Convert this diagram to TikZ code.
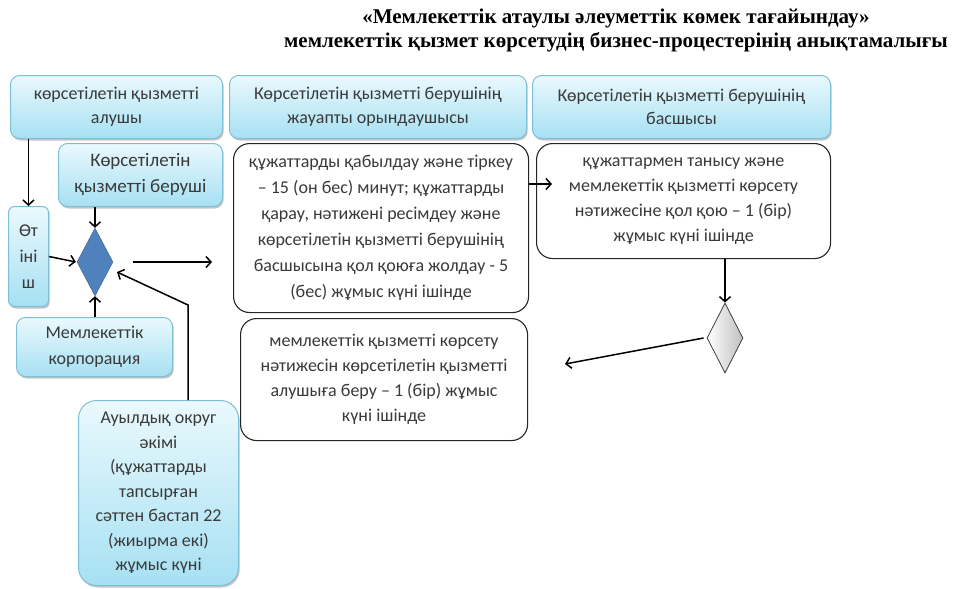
\documentclass[tikz,border=0pt]{standalone}
\usepackage{fontspec}
\setmainfont{Carlito}
\newfontfamily\titlefont{Liberation Serif}
\usetikzlibrary{positioning,arrows.meta,calc,shadows,shapes.geometric}
\definecolor{hdrline}{HTML}{7FBFD6}
\definecolor{hdrtop}{HTML}{EAF9FD}
\definecolor{hdrbot}{HTML}{A6E0F3}
\definecolor{dblue}{HTML}{4F81BD}
\definecolor{dblueline}{HTML}{385D8A}
\definecolor{txt}{HTML}{3A3A3A}

\tikzset{
  hdr/.style={draw=hdrline, line width=1pt, rounded corners=9pt,
    top color=hdrtop, bottom color=hdrbot,
    drop shadow={shadow xshift=1.2pt, shadow yshift=-2pt, fill=black!45},
    align=center, text=txt, font=\fontsize{18}{23.5}\selectfont,
    anchor=north west, inner sep=0pt},
  proc/.style={draw=black!85, line width=1.1pt, rounded corners=16pt, fill=white,
    align=center, text=txt, font=\fontsize{18}{26}\selectfont,
    anchor=north west, inner sep=0pt},
  arr/.style={line width=1.5pt, -{Straight Barb[length=5pt,width=11pt]}},
}

\begin{document}
\begin{tikzpicture}[x=1pt,y=-1pt]
  \useasboundingbox (0,0) rectangle (954,589);
  % title
  \node[font=\titlefont\bfseries\fontsize{21}{24}\selectfont, align=center] (title) at (616,30)
    {«Мемлекеттік атаулы әлеуметтік көмек тағайындау»\\
     мемлекеттік қызмет көрсетудің бизнес-процестерінің анықтамалығы};

  % swimlane heads
  \node[hdr, minimum width=212, minimum height=63] (hA) at (10,75)
    {көрсетілетін қызметті\\алушы};
  \node[hdr, minimum width=297, minimum height=63] (hB) at (229,75)
    {Көрсетілетін қызметті берушінің\\жауапты орындаушысы};
  \node[hdr, minimum width=298, minimum height=63] (hC) at (532,75)
    {Көрсетілетін қызметті берушінің\\басшысы};

  % left column
  \node[hdr, font=\fontsize{19}{26}\selectfont, minimum width=164, minimum height=63] (beru) at (58,143)
    {Көрсетілетін\\қызметті беруші};
  \node[hdr, font=\fontsize{18}{26}\selectfont, minimum width=40, minimum height=100, rounded corners=6pt] (otin) at (8,206)
    {Өт\\іні\\ш};
  \node[draw=dblueline, fill=dblue, diamond, minimum width=36, minimum height=68, inner sep=0pt] (dblu) at (95,262) {};
  \node[hdr, font=\fontsize{18}{26}\selectfont, minimum width=156, minimum height=59] (korp) at (16,317)
    {Мемлекеттік\\корпорация};
  \node[hdr, font=\fontsize{18}{24.5}\selectfont, minimum width=160, minimum height=185, rounded corners=18pt] (akim) at (78,400)
    {Ауылдық округ\\әкімі\\(құжаттарды\\тапсырған\\сәттен бастап 22\\(жиырма екі)\\жұмыс күні};

  % process steps
  \node[proc, minimum width=295, minimum height=169] (p1) at (233,143)
    {құжаттарды қабылдау және тіркеу\\
     – 15 (он бес) минут; құжаттарды\\
     қарау, нәтижені ресімдеу және\\
     көрсетілетін қызметті берушінің\\
     басшысына қол қоюға жолдау - 5\\
     (бес) жұмыс күні ішінде};
  \node[proc, font=\fontsize{18}{25}\selectfont, minimum width=294, minimum height=115] (p2) at (536,143)
    {құжаттармен танысу және\\
     мемлекеттік қызметті көрсету\\
     нәтижесіне қол қою – 1 (бір)\\
     жұмыс күні ішінде};
  \node[proc, font=\fontsize{18}{25}\selectfont, minimum width=287, minimum height=122] (p3) at (240,318)
    {мемлекеттік қызметті көрсету\\
     нәтижесін көрсетілетін қызметті\\
     алушыға беру – 1 (бір) жұмыс\\
     күні ішінде};
  \node[draw=black!75, line width=0.8pt, left color=white, right color=black!25, diamond,
    minimum width=36, minimum height=70, inner sep=0pt] (gdia) at (725,338) {};

  \coordinate (bend) at (188,305);
  \coordinate (dtip) at (117,272);
  \coordinate (ptip) at (565,364);

  % connectors
  \draw[arr] (hA.south -| otin.north) -- (otin.north);
  \draw[arr] (otin.east) -- ($(dblu.west)+(-1,0)$);
  \draw[arr] (beru.south -| dblu.north) -- (dblu.north);
  \draw[arr] (korp.north -| dblu.south) -- (dblu.south);
  \draw[arr] (akim.north -| bend) -- (bend) -- (dtip);
  \draw[arr] ($(dblu.east)+(20,0)$) -- ($(p1.west |- dblu)+(-21,0)$);
  \draw[arr] (p1.east |- 0,184) -- ($(p2.west |- 0,184)+(16,0)$);
  \draw[arr] (p2.south -| gdia.north) -- (gdia.north);
  \draw[arr] ($(gdia.west)+(-3,0)$) -- (ptip);
\end{tikzpicture}
\end{document}
